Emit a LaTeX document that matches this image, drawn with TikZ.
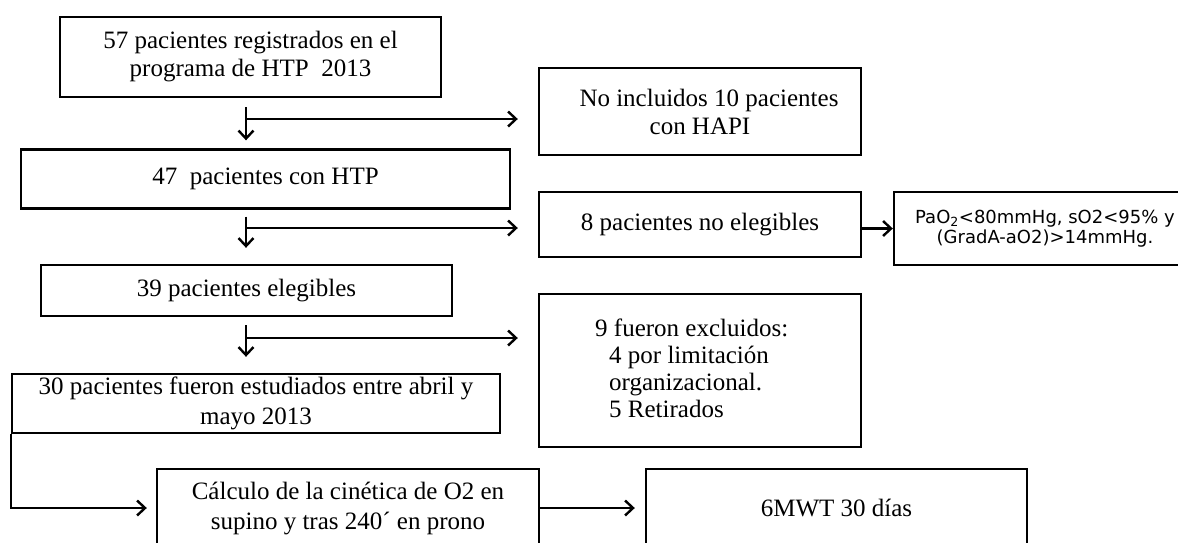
\documentclass[tikz,border=0pt]{standalone}
\usepackage{fontspec}
\setmainfont{Liberation Serif}
\newfontfamily\sansf{DejaVu Sans}
\usetikzlibrary{arrows.meta}
\begin{document}
\begin{tikzpicture}[x=1pt,y=-1pt,
  box/.style={draw, line width=2.4pt, inner sep=0pt, align=center,
    font=\fontsize{25}{28}\selectfont},
  txt/.style={inner sep=0pt, align=left, font=\fontsize{25}{27}\selectfont},
  sbox/.style={draw, line width=2.4pt, inner sep=0pt, align=center,
    font=\sansf\fontsize{18}{20}\selectfont},
  arr/.style={line width=2.4pt, -{Straight Barb[length=8pt,width=15pt,line width=2.4pt]}}]
\useasboundingbox (0,0) rectangle (1178,542);
\fill[white] (0,0) rectangle (1178,542);

\node[box, minimum width=381pt, minimum height=80pt] (b1) at (250.5,57)
  {57 pacientes registrados en el\\programa de HTP\ \ 2013};
\node[box, minimum width=489pt, minimum height=59pt] (b2) at (265.5,179)
  {47\ \ pacientes con HTP};
\node[box, minimum width=411pt, minimum height=51pt] (b3) at (246.5,290.5)
  {39 pacientes elegibles};
\node[box, minimum width=488pt, minimum height=59pt,
  font=\fontsize{25}{30}\selectfont] (b4) at (256,403.5)
  {30 pacientes fueron estudiados entre abril y\\mayo 2013};
\node[box, minimum width=382pt, minimum height=78pt,
  font=\fontsize{25}{30}\selectfont] (b5) at (348,508)
  {Cálculo de la cinética de O2 en\\supino y tras 240´ en prono};
\node[box, minimum width=381pt, minimum height=78pt] (b6) at (836.5,508)
  {6MWT 30 días};

\node[box, minimum width=322pt, minimum height=87pt] (hapi) at (700,111.5)
  {\hspace*{18pt}No incluidos 10 pacientes\\con HAPI};
\node[box, minimum width=322pt, minimum height=65pt] (b8) at (700,224.5)
  {8 pacientes no elegibles};
\node[sbox, minimum width=302pt, minimum height=73pt] (pao) at (1045,228.5)
  {PaO\textsubscript{2}<80mmHg, sO2<95\% y\\(GradA-aO2)>14mmHg.};
\node[draw, line width=2.4pt, minimum width=322pt, minimum height=153pt] (b9) at (700,370.5) {};
\node[txt, anchor=west] (b9t) at (595,368.5)
  {9 fueron excluidos:\\\hspace*{14pt}4 por limitación\\\hspace*{14pt}organizacional.\\\hspace*{14pt}5 Retirados};

\coordinate (j1) at (246,119);
\coordinate (j2) at (246,228);
\coordinate (j3) at (246,338);

\draw[arr, shorten <=9pt, shorten >=8pt] (b1.south -| j1) -- (b2.north -| j1);
\draw[arr, shorten >=20pt] (j1) -- (j1 -| hapi.west);
\draw[arr, shorten <=7pt, shorten >=16pt] (b2.south -| j2) -- (b3.north -| j2);
\draw[arr, shorten >=20pt] (j2) -- (j2 -| b8.west);
\draw[arr, shorten <=8pt, shorten >=16pt] (b3.south -| j3) -- (b4.north -| j3);
\draw[arr, shorten >=20pt] (j3) -- (j3 -| b9.west);

\draw[arr] (b8.east |- pao.west) -- (pao.west);
\draw[arr, shorten >=9pt] (b4.south west) |- (b5.west);
\draw[arr, shorten >=10pt] (b5.east) -- (b6.west);
\end{tikzpicture}
\end{document}
